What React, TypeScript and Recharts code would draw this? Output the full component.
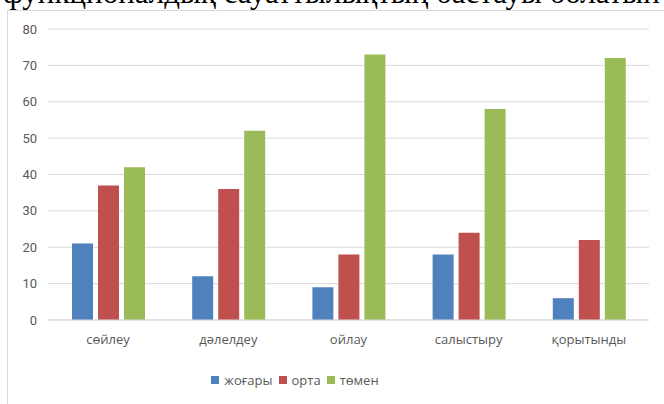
import React from "react";
import { BarChart, Bar, XAxis, YAxis, CartesianGrid } from "recharts";

const categories = ["сөйлеу", "дәлелдеу", "ойлау", "салыстыру", "қорытынды"];
const high = [21, 12, 9, 18, 6];
const mid = [37, 36, 18, 24, 22];
const low = [42, 52, 73, 58, 72];
const yTicks = [0, 10, 20, 30, 40, 50, 60, 70, 80];

const seriesNames = ["жоғары", "орта", "төмен"];
const COLORS = ["#4F81BD", "#C0504D", "#9BBB59"];

const data = categories.map((name, i) => ({ name, high: high[i], mid: mid[i], low: low[i] }));

const tickStyle = { fill: "#595959", fontSize: 13, fontFamily: "'Open Sans', sans-serif" };

export default function App() {
  return (
    <div
      style={{
        position: "fixed",
        left: 0,
        top: 0,
        width: 664,
        height: 404,
        overflow: "hidden",
        background: "#fff",
      }}
    >
      {/* heading line from the document, cut off by the screenshot */}
      <div
        style={{
          position: "absolute",
          left: 3,
          top: -23,
          whiteSpace: "nowrap",
          fontFamily: "'Liberation Serif', serif",
          fontSize: 31,
          lineHeight: "31px",
          color: "#000",
        }}
      >
        функционалдық сауаттылықтың бастауы болатын
      </div>
      <div
        style={{
          position: "absolute",
          left: 7,
          top: 10,
          width: 670,
          height: 400,
          borderLeft: "1px solid #d9d9d9",
          borderTop: "1px solid #d9d9d9",
        }}
      />
      <div style={{ position: "absolute", left: 0, top: 0 }}>
        <BarChart
          width={664}
          height={404}
          data={data}
          margin={{ top: 29, right: 15, bottom: 54, left: 0 }}
          barSize={21}
          barGap={5}
        >
          <CartesianGrid vertical={false} stroke="#d9d9d9" />
          <XAxis
            dataKey="name"
            height={30}
            axisLine={{ stroke: "#d9d9d9" }}
            tickLine={false}
            tickSize={0}
            tickMargin={15}
            tick={tickStyle}
          />
          <YAxis
            width={48}
            domain={[0, 80]}
            ticks={yTicks}
            axisLine={false}
            tickLine={false}
            tickSize={0}
            tickMargin={11}
            tick={{ ...tickStyle, fontFamily: "Roboto, sans-serif" }}
          />
          <Bar dataKey="high" name={seriesNames[0]} fill={COLORS[0]} isAnimationActive={false} />
          <Bar dataKey="mid" name={seriesNames[1]} fill={COLORS[1]} isAnimationActive={false} />
          <Bar dataKey="low" name={seriesNames[2]} fill={COLORS[2]} isAnimationActive={false} />
        </BarChart>
      </div>
      <div
        style={{
          position: "absolute",
          left: 0,
          width: 590,
          top: 371,
          display: "flex",
          justifyContent: "center",
          gap: 6,
          fontFamily: "'Open Sans', sans-serif",
          fontSize: 13,
          color: "#595959",
          lineHeight: "18px",
        }}
      >
        {seriesNames.map((s, i) => (
          <span key={s} style={{ display: "flex", alignItems: "center", gap: 5 }}>
            <span style={{ width: 8, height: 8, background: COLORS[i], display: "inline-block" }} />
            {s}
          </span>
        ))}
      </div>
    </div>
  );
}
